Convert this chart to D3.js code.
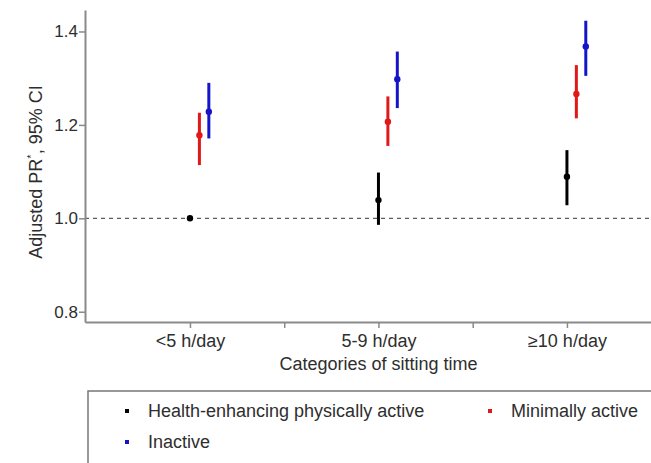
<!DOCTYPE html>
<html><head><meta charset="utf-8">
<script src="https://cdn.jsdelivr.net/npm/d3@7"></script>
<style>body{margin:0;background:#fff}svg{display:block;font-family:"Liberation Sans",Arial,sans-serif}</style>
</head><body><svg id="c" width="651" height="463"></svg>
<script>
const categories = ["<5 h/day", "5-9 h/day", "\u226510 h/day"];
const seriesNames = ["Health-enhancing physically active", "Minimally active", "Inactive"];
const seriesColors = ["#000000", "#e01818", "#1414c8"];
const seriesOffsets = [0, 0.05, 0.1];
const activeEst = [1.00, 1.039, 1.089];
const activeLow = [null, 0.986, 1.028];
const activeHigh = [null, 1.098, 1.146];
const minimalEst = [1.178, 1.207, 1.266];
const minimalLow = [1.114, 1.155, 1.214];
const minimalHigh = [1.226, 1.261, 1.328];
const inactiveEst = [1.228, 1.298, 1.368];
const inactiveLow = [1.171, 1.236, 1.305];
const inactiveHigh = [1.290, 1.357, 1.423];
const yTicks = [0.8, 1.0, 1.2, 1.4];

const est = [activeEst, minimalEst, inactiveEst];
const low = [activeLow, minimalLow, inactiveLow];
const high = [activeHigh, minimalHigh, inactiveHigh];

const FS = 18;
const svg = d3.select("#c");
const x = d3.scaleLinear().domain([0.443, 3.446]).range([85, 651]);
const y = d3.scaleLinear().domain([0.778, 1.446]).range([322, 10]);
const axisCol = "#8a8a8a", textCol = "#2e2e2e";

// reference line
svg.append("line").attr("x1", x(0.443)).attr("x2", 651).attr("y1", y(1)).attr("y2", y(1))
  .attr("stroke", "#333").attr("stroke-width", 1).attr("stroke-dasharray", "4,4");

// y axis
const ya = svg.append("g").attr("transform", "translate(85,0)")
  .call(d3.axisLeft(y).tickValues(yTicks).tickFormat(d3.format(".1f")).tickSize(6).tickSizeOuter(0));
ya.select(".domain").attr("stroke", axisCol).attr("stroke-width", 2);
ya.selectAll(".tick line").attr("stroke", axisCol).attr("stroke-width", 1.5);
ya.selectAll(".tick text").attr("fill", textCol).attr("font-size", FS - 1).attr("x", -7).attr("font-family", "Liberation Sans, Arial, sans-serif");

// x axis
const xa = svg.append("g").attr("transform", "translate(0,322)")
  .call(d3.axisBottom(x).tickValues([1, 1.5, 2, 2.5, 3])
    .tickFormat(d => Number.isInteger(d) ? categories[d - 1] : "").tickSize(6).tickSizeOuter(0));
xa.select(".domain").attr("stroke", axisCol).attr("stroke-width", 2);
xa.selectAll(".tick line").attr("stroke", axisCol).attr("stroke-width", 1.5);
xa.selectAll(".tick text").attr("fill", textCol).attr("font-size", FS).attr("y", 12).attr("font-family", "Liberation Sans, Arial, sans-serif");

// axis titles
svg.append("text").attr("x", x(2)).attr("y", 370).attr("text-anchor", "middle")
  .attr("font-size", FS).attr("fill", textCol).text("Categories of sitting time");
const yl = svg.append("text").attr("transform", "translate(42,172) rotate(-90)").attr("text-anchor", "middle")
  .attr("font-size", FS).attr("fill", textCol);
yl.append("tspan").text("Adjusted PR");
yl.append("tspan").attr("font-size", 11).attr("dy", -7).text("*");
yl.append("tspan").attr("dy", 7).text(", 95% CI");

// error bars and points
seriesNames.forEach((name, s) => {
  const g = svg.append("g");
  categories.forEach((c, i) => {
    const cx = x(i + 1 + seriesOffsets[s]);
    if (low[s][i] != null) {
      g.append("line").attr("x1", cx).attr("x2", cx).attr("y1", y(low[s][i])).attr("y2", y(high[s][i]))
        .attr("stroke", seriesColors[s]).attr("stroke-width", 3);
    }
    g.append("circle").attr("cx", cx).attr("cy", y(est[s][i])).attr("r", 3.2).attr("fill", seriesColors[s]);
  });
});

// legend
svg.append("rect").attr("x", 88).attr("y", 391).attr("width", 600).attr("height", 100)
  .attr("fill", "none").attr("stroke", "#777").attr("stroke-width", 1.5);
const legPos = [[127, 411], [490, 411], [127, 442]];
seriesNames.forEach((name, s) => {
  const [lx, ly] = legPos[s];
  svg.append("rect").attr("x", lx - 2).attr("y", ly - 2).attr("width", 4).attr("height", 4).attr("fill", seriesColors[s]);
  svg.append("text").attr("x", lx + 21).attr("y", ly + 6).attr("font-size", FS).attr("fill", textCol).text(name);
});
</script></body></html>
